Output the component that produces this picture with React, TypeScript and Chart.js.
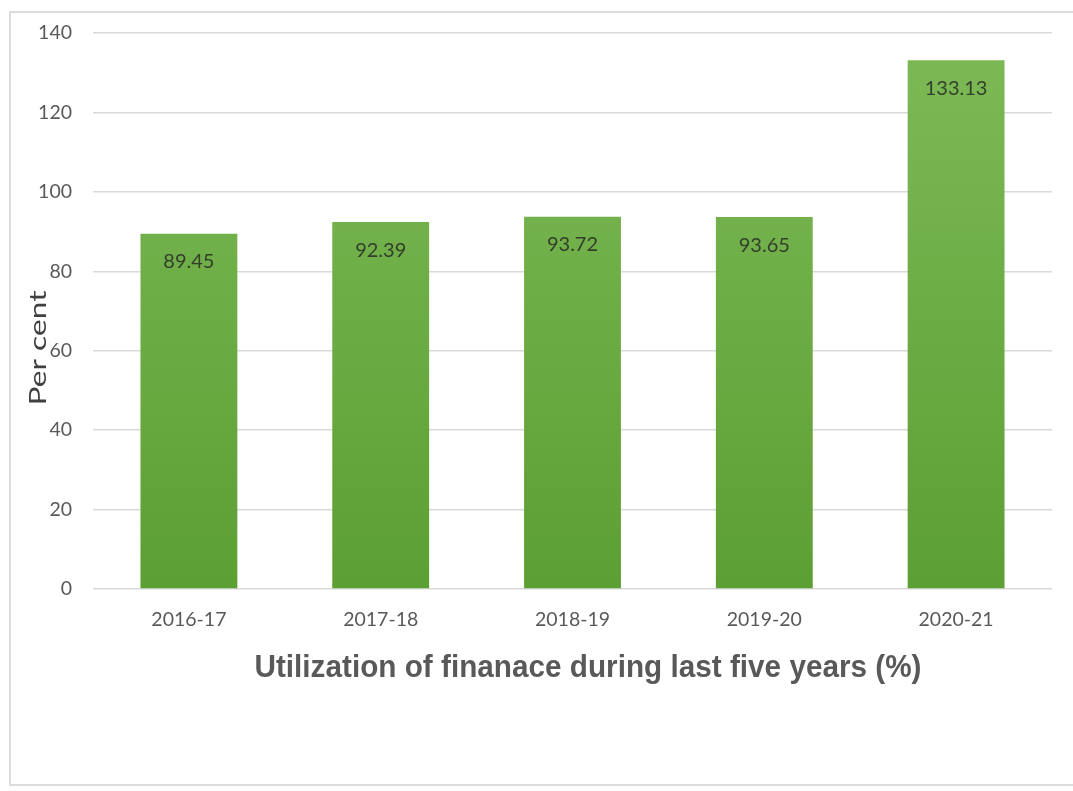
import React, { useEffect, useRef } from "react";
import { Chart, registerables } from "chart.js";

Chart.register(...registerables);

const categories = ["2016-17", "2017-18", "2018-19", "2019-20", "2020-21"];
const utilization = [89.45, 92.39, 93.72, 93.65, 133.13];
const yTicks = [0, 20, 40, 60, 80, 100, 120, 140];
const xTitle = "Utilization of finanace during last five years (%)";
const yTitle = "Per cent";

const W = 1073;
const H = 791;

export default function App() {
  const ref = useRef<HTMLCanvasElement | null>(null);

  useEffect(() => {
    document.body.style.margin = "0";
    const canvas = ref.current!;
    const frame = {
      id: "frame",
      beforeDraw(chart: any) {
        const ctx = chart.ctx;
        ctx.save();
        ctx.fillStyle = "#ffffff";
        ctx.fillRect(0, 0, W, H);
        ctx.strokeStyle = "#dcdcdc";
        ctx.lineWidth = 2;
        ctx.strokeRect(10, 12, W - 20 + 12, H - 18);
        ctx.restore();
      },
    };
    const extras = {
      id: "extras",
      afterDatasetsDraw(chart: any) {
        const ctx = chart.ctx;
        const meta = chart.getDatasetMeta(0);
        ctx.save();
        ctx.font = "20px Lato";
        ctx.fillStyle = "rgba(45,50,40,0.9)";
        ctx.textAlign = "center";
        ctx.textBaseline = "middle";
        meta.data.forEach((bar: any, i: number) => {
          ctx.fillText(utilization[i].toFixed(2), bar.x, bar.y + 28);
        });
        ctx.restore();
      },
      afterDraw(chart: any) {
        const ctx = chart.ctx;
        ctx.save();
        // x title
        ctx.font = "bold 31px 'Liberation Sans'";
        ctx.fillStyle = "#595959";
        ctx.textBaseline = "middle";
        ctx.textAlign = "center";
        const w = ctx.measureText(xTitle).width;
        ctx.translate(588, 668);
        ctx.scale(667 / w, 1);
        ctx.fillText(xTitle, 0, 0);
        ctx.restore();
        // y title
        ctx.save();
        ctx.font = "23px Lato";
        ctx.fillStyle = "#404040";
        ctx.textAlign = "center";
        ctx.textBaseline = "middle";
        const wy = ctx.measureText(yTitle).width;
        ctx.translate(39, 348);
        ctx.rotate(-Math.PI / 2);
        ctx.scale(115 / wy, 1);
        ctx.fillText(yTitle, 0, 0);
        ctx.restore();
      },
    };

    const chart = new Chart(canvas, {
      type: "bar",
      data: {
        labels: categories,
        datasets: [
          {
            data: utilization,
            backgroundColor: (c: any) => {
              const a = c.chart.chartArea;
              if (!a) return "#6cae45";
              const g = c.chart.ctx.createLinearGradient(0, a.top, 0, a.bottom);
              g.addColorStop(0, "#7dba57");
              g.addColorStop(1, "#5c9f33");
              return g;
            },
            borderWidth: 0,
            categoryPercentage: 1,
            barPercentage: 0.505,
          },
        ],
      },
      plugins: [frame, extras],
      options: {
        responsive: false,
        animation: false,
        layout: { padding: { top: 33, right: 21, bottom: 0, left: 0 } },
        plugins: { legend: { display: false }, tooltip: { enabled: false } },
        scales: {
          x: {
            grid: { display: false, drawTicks: false },
            border: { display: false },
            ticks: {
              padding: 19,
              color: "#595959",
              font: { family: "Lato", size: 19.5 },
            },
            afterFit: (s: any) => {
              s.height = H - 589;
            },
          },
          y: {
            min: 0,
            max: 140,
            afterBuildTicks: (s: any) => {
              s.ticks = yTicks.map((v) => ({ value: v }));
            },
            grid: { color: "#d9d9d9", lineWidth: 1.5, drawTicks: false },
            border: { display: false },
            ticks: {
              padding: 21,
              color: "#595959",
              font: { family: "Lato", size: 19.5 },
            },
            afterFit: (s: any) => {
              s.width = 93;
            },
          },
        },
      },
    });
    return () => chart.destroy();
  }, []);

  return (
    <div style={{ position: "absolute", left: 0, top: 0, width: W, height: H }}>
      <canvas ref={ref} width={W} height={H} style={{ display: "block" }} />
    </div>
  );
}
